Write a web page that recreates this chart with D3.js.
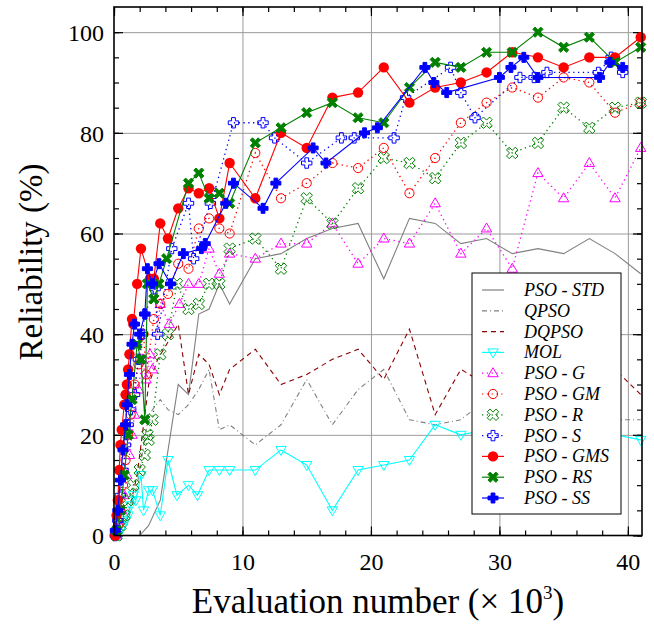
<!DOCTYPE html>
<html>
<head>
<meta charset="utf-8">
<script src="https://cdn.jsdelivr.net/npm/d3@7"></script>
<style>
  body { margin: 0; background: white; }
  text { font-family: "Liberation Serif", "Times New Roman", serif; }
</style>
</head>
<body>
<div id="vis"></div>
<script>
// data: [evaluation number (x 10^3), reliability %]
const stdPts = [[0.2,0],[1.0,0],[2.0,0],[2.7,2],[3.6,7],[5.0,30],[5.8,28],[6.6,44],[7.4,45],[8.2,50],[9,46],[11,55],[13,56],[15,59],[17,61],[19,62],[21,51],[23,63],[25,62],[27,58],[29,59],[31,56],[33,57],[35,56],[37,59],[39,56],[41,52]];
const qpsoPts = [[0.2,0],[1.0,2],[1.8,10],[2.7,24],[3.6,27],[4.2,25],[5.0,24],[5.8,26],[6.6,29],[7.4,33],[8.2,21],[9,22],[11,18],[13,22],[15,31],[17,22],[19,29],[21,33],[23,23],[25,22],[27,23],[29,27],[31,25],[33,24],[35,25],[37,24],[39,23],[41,23]];
const dqpsoPts = [[0.2,0],[1.0,3],[1.8,12],[2.7,30],[3.4,35],[4.1,38],[5.0,42],[5.8,28],[6.6,36],[7.4,34],[8.2,28],[9,33],[11,37],[13,30],[15,32],[17,35],[19,37],[21,31],[23,41],[25,24],[27,33],[29,30],[31,34],[33,32],[35,33],[37,34],[39,33],[41,28]];
const molPts = [[0.1,0],[0.3,0],[0.5,1],[0.7,2],[0.9,3],[1.1,4],[1.3,6],[1.5,8],[1.7,7],[2.1,12],[2.3,5],[2.7,9],[3.0,9],[3.6,4],[4.2,15],[4.9,8],[5.8,10],[6.5,8],[7.4,13],[8.2,13],[9,13],[11,13],[13,17],[15,14],[17,5],[19,13],[21,14],[23,15],[25,22],[27,20],[29,21],[31,20],[33,20],[35,21],[37,20],[39,20],[41,19]];
const gPts = [[0.2,0],[0.4,3],[0.6,5],[0.8,8],[1.0,12],[1.2,16],[1.4,20],[1.6,24],[1.9,29],[2.2,35],[2.5,31],[2.8,36],[3.0,33],[3.6,46],[4.3,42],[5.1,46],[5.8,50],[6.6,50],[7.4,57],[8.2,52],[9,56],[11,55],[13,58],[15,58],[17,62],[19,54],[21,59],[23,58],[25,66],[27,56],[29,61],[31,53],[33,72],[35,67],[37,74],[39,67],[41,77]];
const gmPts = [[0.1,0],[0.3,2],[0.5,5],[0.7,10],[0.9,15],[1.1,20],[1.3,24],[1.6,30],[1.9,34],[2.3,40],[2.5,32],[3.1,43],[3.6,46],[4.2,48],[5.0,54],[5.8,53],[6.6,61],[7.4,63],[8.2,61],[9,60],[11,76],[13,67],[15,70],[17,74],[19,73],[21,77],[23,68],[25,75],[27,82],[29,86],[31,89],[33,87],[35,91],[37,90],[39,84],[41,86]];
const rPts = [[0.2,0],[0.5,2],[0.8,4],[1.1,7],[1.5,10],[2.0,13],[2.4,16],[2.6,20],[2.7,19],[3.0,23],[3.6,36],[4.2,40],[4.9,50],[5.8,45],[6.6,46],[7.4,50],[8.2,50],[9,57],[11,59],[13,53],[15,67],[17,62],[19,69],[21,75],[23,74],[25,71],[27,78],[29,82],[31,76],[33,78],[35,85],[37,81],[39,85],[41,86]];
const sPts = [[0.1,0],[0.3,3],[0.5,8],[0.7,13],[0.9,18],[1.1,22],[1.3,25],[1.6,28],[1.9,35],[2.2,40],[2.4,44],[3.2,49],[3.4,40],[4.5,57],[5.8,66],[6.2,55],[7.5,66],[7.8,68],[9.3,82],[11.6,82],[12.5,79],[15,74],[17.7,79],[18.7,79],[21.8,79],[22.7,87],[26.2,93],[27,88],[28.1,83],[31.6,91],[32.7,91],[33.7,92],[37.7,92],[38.7,95],[39.6,92]];
const gmsPts = [[0.1,0],[0.2,4],[0.3,7],[0.4,13],[0.5,18],[0.6,21],[0.8,26],[0.9,28],[1.0,30],[1.1,33],[1.2,36],[1.4,43],[1.5,42],[1.8,50],[2.1,57],[2.8,51],[3.1,51],[3.6,62],[4.2,59],[5.0,65],[5.8,69],[6.6,68],[7.4,69],[8.2,63],[9,74],[11,67],[13,80],[15,77],[17,87],[19,88],[21,93],[23,86],[25,89],[27,90],[29,92],[31,96],[33,95],[35,93],[37,95],[39,95],[41,99]];
const rsPts = [[0.2,1],[0.5,5],[0.8,12],[1.1,20],[1.4,27],[1.8,38],[2.1,35],[2.4,23],[2.6,50],[3.1,47],[3.5,50],[4.1,55],[5.8,70],[6.6,72],[7.4,67],[8.2,68],[9,66],[11,78],[13,81],[15,84],[17,86],[19,83],[21,82],[23,89],[25,94],[27,93],[29,96],[31,96],[33,100],[35,97],[37,99],[39,94],[41,97]];
const ssPts = [[0.1,1],[0.3,5],[0.5,11],[0.7,17],[0.9,22],[1.0,26],[1.2,32],[1.4,38],[1.6,42],[2.0,40],[2.4,44],[2.6,53],[3.0,50],[3.5,54],[4.4,50],[5.4,56],[6.8,57],[7.1,58],[8.7,66],[9.3,70],[11.6,65],[12.6,70],[15.5,77],[16.5,74],[19.5,80],[20.5,81],[24.2,93],[24.9,90],[25.9,88],[30,91],[30.9,93],[31.9,95],[33,91],[37.8,91],[38.6,94],[39.6,93]];

const seriesNames = ["PSO - STD", "QPSO", "DQPSO", "MOL", "PSO - G", "PSO - GM", "PSO - R", "PSO - S", "PSO - GMS", "PSO - RS", "PSO - SS"];
const xTicks = [0, 10, 20, 30, 40];
const yTicks = [0, 20, 40, 60, 80, 100];

// styling for each series, in legend order
const series = [
  {name: seriesNames[0], pts: stdPts, color: "#808080", dash: null, marker: null},
  {name: seriesNames[1], pts: qpsoPts, color: "#808080", dash: "5,3,1,3", marker: null},
  {name: seriesNames[2], pts: dqpsoPts, color: "#8b0000", dash: "5,4", marker: null},
  {name: seriesNames[3], pts: molPts, color: "#00ffff", dash: null, marker: "triDown"},
  {name: seriesNames[4], pts: gPts, color: "#ff00ff", dash: "1.3,3.5", marker: "triUp"},
  {name: seriesNames[5], pts: gmPts, color: "#ff0000", dash: "1.3,3.5", marker: "circleOpen"},
  {name: seriesNames[6], pts: rPts, color: "#008000", dash: "1.3,3.5", marker: "xOpen"},
  {name: seriesNames[7], pts: sPts, color: "#0000ff", dash: "1.3,3.5", marker: "plusOpen"},
  {name: seriesNames[8], pts: gmsPts, color: "#ff0000", dash: null, marker: "circle"},
  {name: seriesNames[9], pts: rsPts, color: "#008000", dash: null, marker: "xFill"},
  {name: seriesNames[10], pts: ssPts, color: "#0000ff", dash: null, marker: "plusFill"}
];

let width = 654;
let height = 625;
let margin = {top: 7, bottom: 89.5, left: 114, right: 12};

let svg = d3.select("#vis")
  .append("svg")
  .attr("width", width)
  .attr("height", height)
  .style("background", "white");

let xScale = d3.scaleLinear()
  .domain([0, 41.1])
  .range([margin.left, width - margin.right]);

let yScale = d3.scaleLinear()
  .domain([0, 105])
  .range([height - margin.bottom, margin.top]);

let plotW = width - margin.left - margin.right;
let plotH = height - margin.top - margin.bottom;
let bottomY = height - margin.bottom;

// grid lines
svg.append("g")
  .attr("transform", `translate(0, ${bottomY})`)
  .call(d3.axisBottom(xScale).tickValues([10, 20, 30, 40]).tickSize(-plotH).tickFormat(""))
  .call(g => g.select(".domain").remove())
  .selectAll("line").attr("stroke", "#9a9a9a").attr("stroke-width", 1);

svg.append("g")
  .attr("transform", `translate(${margin.left}, 0)`)
  .call(d3.axisLeft(yScale).tickValues([20, 40, 60, 80, 100]).tickSize(-plotW).tickFormat(""))
  .call(g => g.select(".domain").remove())
  .selectAll("line").attr("stroke", "#9a9a9a").attr("stroke-width", 1);

// inward ticks on all four sides
function ticks(axisFn, pos, values, len) {
  svg.append("g")
    .attr("transform", pos)
    .call(axisFn.tickValues(values).tickSize(-len).tickFormat(""))
    .call(g => g.select(".domain").remove())
    .selectAll("line").attr("stroke", "black").attr("stroke-width", 1.2);
}
let xMinor = d3.range(0, 42, 2);
let yMinor = d3.range(0, 105, 5);
ticks(d3.axisBottom(xScale), `translate(0, ${bottomY})`, xMinor, 5);
ticks(d3.axisTop(xScale), `translate(0, ${margin.top})`, xMinor, 5);
ticks(d3.axisLeft(yScale), `translate(${margin.left}, 0)`, yMinor, 5);
ticks(d3.axisRight(yScale), `translate(${width - margin.right}, 0)`, yMinor, 5);
ticks(d3.axisBottom(xScale), `translate(0, ${bottomY})`, xTicks, 9);
ticks(d3.axisTop(xScale), `translate(0, ${margin.top})`, xTicks, 9);
ticks(d3.axisLeft(yScale), `translate(${margin.left}, 0)`, yTicks, 9);
ticks(d3.axisRight(yScale), `translate(${width - margin.right}, 0)`, yTicks, 9);

// tick labels
svg.append("g")
  .attr("transform", `translate(0, ${bottomY})`)
  .call(d3.axisBottom(xScale).tickValues(xTicks).tickSize(0))
  .call(g => g.select(".domain").remove())
  .selectAll("text")
  .attr("y", 34.5).attr("dy", null)
  .style("font-family", "Liberation Serif").style("font-size", "24px").attr("fill", "black");

svg.append("g")
  .attr("transform", `translate(${margin.left}, 0)`)
  .call(d3.axisLeft(yScale).tickValues(yTicks).tickSize(0))
  .call(g => g.select(".domain").remove())
  .selectAll("text")
  .attr("x", -10).attr("dy", "0.34em")
  .style("font-family", "Liberation Serif").style("font-size", "24px").attr("fill", "black");

// markers
let plusPoly = (s, w) => [[-w,-s],[w,-s],[w,-w],[s,-w],[s,w],[w,w],[w,s],[-w,s],[-w,w],[-s,w],[-s,-w],[-w,-w]];
function drawMarker(g, type, color, cx, cy) {
  if (type === "circle") {
    g.append("circle").attr("cx", cx).attr("cy", cy).attr("r", 5.2).attr("fill", color);
  } else if (type === "circleOpen") {
    g.append("circle").attr("cx", cx).attr("cy", cy).attr("r", 4.6)
      .attr("fill", "none").attr("stroke", color).attr("stroke-width", 1);
  } else if (type === "triUp") {
    g.append("path").attr("d", `M${cx},${cy - 5.5}L${cx + 5.2},${cy + 3.5}L${cx - 5.2},${cy + 3.5}Z`)
      .attr("fill", "none").attr("stroke", color).attr("stroke-width", 1);
  } else if (type === "triDown") {
    g.append("path").attr("d", `M${cx},${cy + 5.5}L${cx + 5.2},${cy - 3.5}L${cx - 5.2},${cy - 3.5}Z`)
      .attr("fill", "none").attr("stroke", color).attr("stroke-width", 1);
  } else if (type === "plusOpen" || type === "plusFill") {
    let pts = type === "plusOpen" ? plusPoly(5.2, 1.9) : plusPoly(5, 1.9);
    g.append("polygon")
      .attr("points", pts.map(p => [cx + p[0], cy + p[1]].join(",")).join(" "))
      .attr("fill", type === "plusFill" ? color : "none")
      .attr("stroke", color).attr("stroke-width", 1);
  } else if (type === "xOpen" || type === "xFill") {
    let pts = type === "xOpen" ? plusPoly(6.2, 1.9) : plusPoly(5.6, 1.6);
    let r = Math.SQRT1_2;
    g.append("polygon")
      .attr("points", pts.map(p => [cx + (p[0] - p[1]) * r, cy + (p[0] + p[1]) * r].join(",")).join(" "))
      .attr("fill", type === "xFill" ? color : "none")
      .attr("stroke", color).attr("stroke-width", 1);
  }
}

let line = d3.line().x(d => xScale(d[0])).y(d => yScale(d[1]));

series.forEach(function(s) {
  let g = svg.append("g");
  g.append("path")
    .datum(s.pts)
    .attr("d", line)
    .attr("fill", "none")
    .attr("stroke", s.color)
    .attr("stroke-width", s.dash && s.dash.startsWith("1.3") ? 1.3 : 1.1)
    .attr("stroke-dasharray", s.dash);
  if (s.marker) {
    s.pts.forEach(d => drawMarker(g, s.marker, s.color, xScale(d[0]), yScale(d[1])));
  }
});

// plot frame
svg.append("rect")
  .attr("x", margin.left).attr("y", margin.top)
  .attr("width", plotW).attr("height", plotH)
  .attr("fill", "none").attr("stroke", "black").attr("stroke-width", 1.6);

// legend
let legend = svg.append("g").attr("transform", "translate(472, 273)");
legend.append("rect")
  .attr("width", 149).attr("height", 241)
  .attr("fill", "white").attr("stroke", "black").attr("stroke-width", 1);

series.forEach(function(s, i) {
  let cy = 17 + i * 20.8;
  legend.append("line")
    .attr("x1", 10).attr("x2", 32).attr("y1", cy).attr("y2", cy)
    .attr("stroke", s.color).attr("stroke-width", 1.2)
    .attr("stroke-dasharray", s.dash);
  if (s.marker) drawMarker(legend, s.marker, s.color, 21, cy);
  legend.append("text")
    .attr("x", 52).attr("y", cy + 6)
    .style("font-size", "18px").style("font-style", "italic")
    .text(s.name);
});

// axis titles
svg.append("text")
  .attr("transform", "translate(42, 262) rotate(-90)")
  .attr("text-anchor", "middle")
  .style("font-size", "33px")
  .text("Reliability (%)");

let xt = svg.append("text")
  .attr("x", 378).attr("y", 613)
  .attr("text-anchor", "middle")
  .style("font-size", "35px");
xt.append("tspan").text("Evaluation number (× 10");
xt.append("tspan").attr("dy", -14).style("font-size", "19px").text("3");
xt.append("tspan").attr("dy", 14).text(")");
</script>
</body>
</html>
